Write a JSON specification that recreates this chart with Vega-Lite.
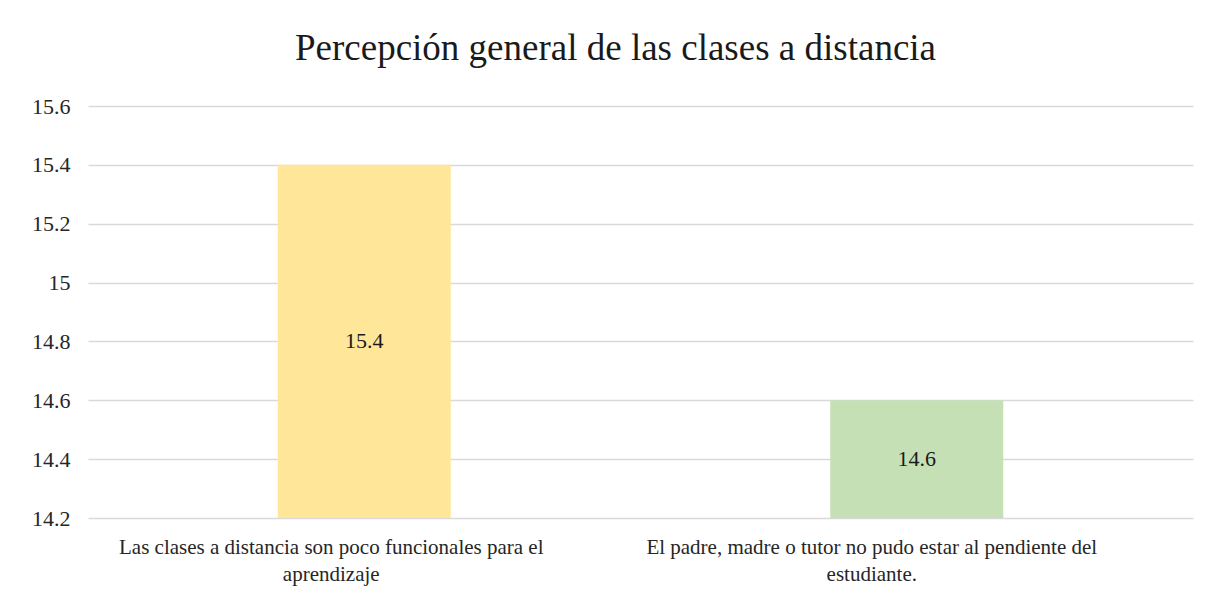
{
  "$schema": "https://vega.github.io/schema/vega-lite/v6.json",
  "width": 1105,
  "height": 412,
  "autosize": {"type": "none"},
  "padding": {"left": 88, "top": 106, "right": 13, "bottom": 79},
  "background": "white",
  "title": {
    "text": "Percepción general  de las clases a distancia",
    "font": "Liberation Serif",
    "fontSize": 37,
    "fontWeight": "normal",
    "color": "#1a1a1a",
    "anchor": "middle",
    "dx": -25,
    "offset": 27
  },
  "data": {
    "values": [
      {"categoria": "Las clases a distancia son poco funcionales para el aprendizaje", "valor": 15.4, "color": "#FFE699"},
      {"categoria": "El padre, madre o tutor no pudo estar al pendiente del estudiante.", "valor": 14.6, "color": "#C5E0B4"}
    ]
  },
  "encoding": {
    "x": {
      "field": "categoria",
      "type": "nominal",
      "sort": null,
      "scale": {"paddingInner": 0, "paddingOuter": 0},
      "axis": {
        "title": null,
        "labelAngle": 0,
        "domain": false,
        "ticks": false,
        "labelPadding": 18,
        "labelLineHeight": 27,
        "labelLimit": 0,
        "labelOffset": {"condition": {"test": "datum.index == 0", "value": -33}, "value": -45},
        "labelExpr": "datum.value == 'Las clases a distancia son poco funcionales para el aprendizaje' ? ['Las clases a distancia son poco funcionales para el', 'aprendizaje'] : ['El padre, madre o tutor no pudo estar al pendiente del', 'estudiante.']"
      }
    }
  },
  "layer": [
    {
      "mark": {"type": "bar", "size": 173},
      "encoding": {
        "y": {
          "field": "valor",
          "type": "quantitative",
          "scale": {"domain": [14.2, 15.6], "zero": false, "nice": false},
          "axis": {
            "title": null,
            "values": [14.2, 14.4, 14.6, 14.8, 15, 15.2, 15.4, 15.6],
            "format": ".2~f",
            "domain": false,
            "ticks": false,
            "grid": true,
            "labelFontSize": 22,
            "labelPadding": 18
          }
        },
        "y2": {"datum": 14.2},
        "color": {"field": "color", "type": "nominal", "scale": null}
      }
    },
    {
      "transform": [{"calculate": "(datum.valor + 14.2) / 2", "as": "medio"}],
      "mark": {"type": "text", "font": "Liberation Serif", "fontSize": 22, "color": "#1a1a1a", "baseline": "middle"},
      "encoding": {
        "y": {"field": "medio", "type": "quantitative"},
        "text": {"field": "valor", "type": "quantitative", "format": ".1f"}
      }
    }
  ],
  "config": {
    "view": {"stroke": null},
    "axis": {
      "labelFont": "Liberation Serif",
      "labelFontSize": 21,
      "labelColor": "#262626",
      "gridColor": "#d9d9d9",
      "gridWidth": 1.3
    }
  }
}
